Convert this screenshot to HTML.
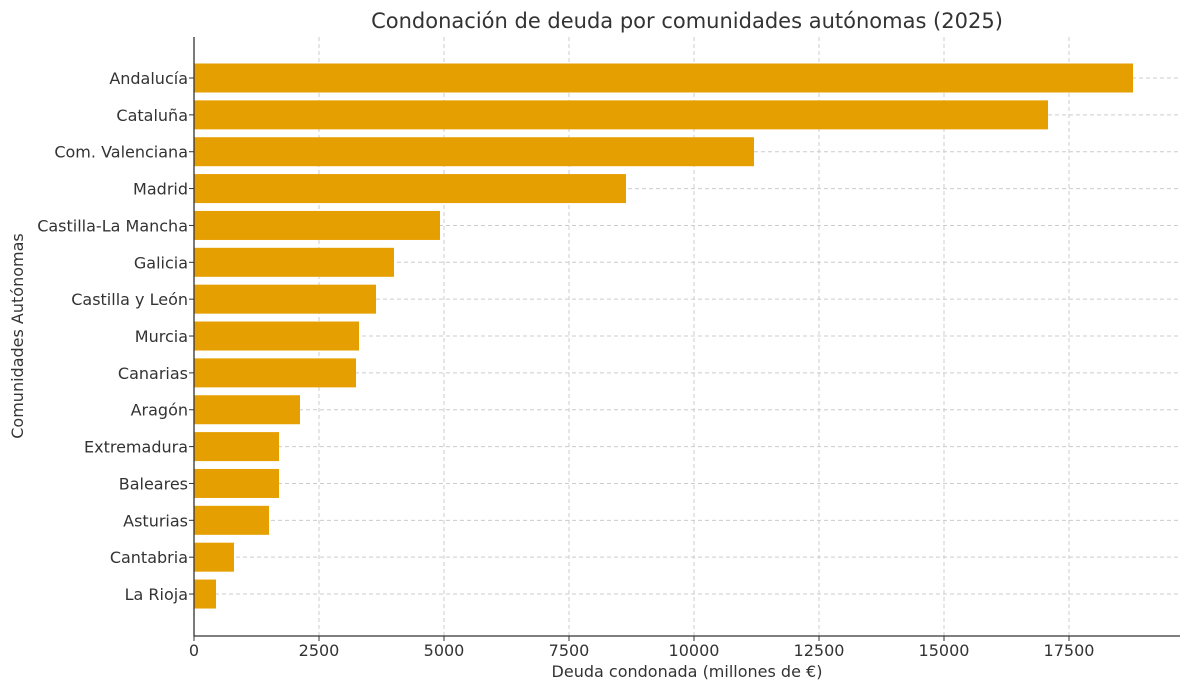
<!DOCTYPE html>
<html><head><meta charset="utf-8"><style>
body{margin:0;background:#fff;}
svg{display:block;font-family:"DejaVu Sans","Liberation Sans",sans-serif;}
</style></head><body>
<svg id="chart" width="1190" height="690"></svg>
<script>
const categories=["Andalucía","Cataluña","Com. Valenciana","Madrid","Castilla-La Mancha","Galicia","Castilla y León","Murcia","Canarias","Aragón","Extremadura","Baleares","Asturias","Cantabria","La Rioja"];
const values=[18780,17080,11200,8640,4920,4000,3640,3300,3240,2120,1700,1700,1500,800,440];
const xTicks=[0,2500,5000,7500,10000,12500,15000,17500];
const NS="http://www.w3.org/2000/svg";
const svg=document.getElementById("chart");
const L=194,R=1180,T=37,B=636;
const x=v=>L+v*0.05;
const y=i=>78+i*36.86;
function mk(t,a,p){const e=document.createElementNS(NS,t);for(const k in a)e.setAttribute(k,a[k]);(p||svg).appendChild(e);return e;}
const t=mk("text",{x:687,y:28,"text-anchor":"middle","font-size":"21",fill:"#333"});


t.textContent="Condonación de deuda por comunidades autónomas (2025)";
xTicks.forEach(v=>{
  const g=mk("line",{x1:x(v),x2:x(v),y1:T,y2:B,stroke:"#ccc","stroke-dasharray":"4,3"});
  
  
  mk("line",{x1:x(v),x2:x(v),y1:B,y2:B+5,stroke:"#333"});
  const l=mk("text",{x:x(v),y:656,"text-anchor":"middle","font-size":"16",fill:"#333"});
  
  
  l.textContent=v;
});
categories.forEach((c,i)=>{
  const g=mk("line",{x1:L,x2:R,y1:y(i),y2:y(i),stroke:"#ccc","stroke-dasharray":"4,3"});
  
  
});
categories.forEach((c,i)=>{
  const b=mk("rect",{x:L,y:y(i)-14.5,width:x(values[i])-L,height:29,fill:"#E69F00"});
  
  
  mk("line",{x1:L-5,x2:L,y1:y(i),y2:y(i),stroke:"#333"});
  const l=mk("text",{x:L-6,y:y(i)+6,"text-anchor":"end","font-size":"16",fill:"#333"});
  
  
  l.textContent=c;
});
const ax=mk("path",{d:`M${L},${T} V${B} H${R}`,fill:"none",stroke:"#333","stroke-width":"1.3"});


const xt=mk("text",{x:687,y:677,"text-anchor":"middle","font-size":"16",fill:"#333"});


xt.textContent="Deuda condonada (millones de €)";
const yt=mk("text",{x:0,y:0,"text-anchor":"middle","font-size":"16",fill:"#333",transform:"translate(23,336) rotate(-90)"});


yt.textContent="Comunidades Autónomas";
</script>
</body></html>
